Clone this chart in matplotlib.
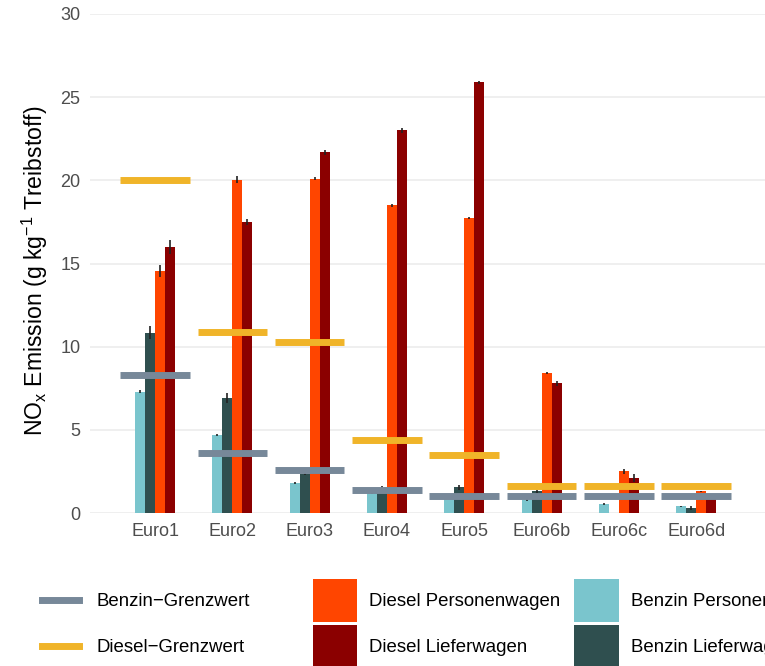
import numpy as np
import matplotlib.pyplot as plt
from matplotlib.patches import Patch
from matplotlib.lines import Line2D

plt.rcParams['font.family'] = ['Liberation Sans', 'DejaVu Sans']
plt.rcParams['mathtext.fontset'] = 'custom'
plt.rcParams['mathtext.rm'] = 'Liberation Sans'
plt.rcParams['mathtext.it'] = 'Liberation Sans:italic'

# Werte (g NOx pro kg Treibstoff)
categories = ['Euro1', 'Euro2', 'Euro3', 'Euro4', 'Euro5', 'Euro6b', 'Euro6c', 'Euro6d']
benzin_pw = [7.3, 4.7, 1.8, 1.2, 0.9, 0.8, 0.55, 0.42]
benzin_pw_err = [0.1, 0.05, 0.05, 0.05, 0.05, 0.05, 0.05, 0.03]
benzin_lw = [10.85, 6.9, 2.35, 1.5, 1.55, 1.3, np.nan, 0.3]
benzin_lw_err = [0.4, 0.3, 0.05, 0.1, 0.15, 0.1, np.nan, 0.1]
diesel_pw = [14.55, 20.05, 20.1, 18.5, 17.75, 8.42, 2.5, 1.3]
diesel_pw_err = [0.35, 0.2, 0.1, 0.1, 0.05, 0.05, 0.15, 0.05]
diesel_lw = [16.0, 17.5, 21.7, 23.0, 25.9, 7.8, 2.1, 1.0]
diesel_lw_err = [0.4, 0.2, 0.15, 0.15, 0.1, 0.15, 0.25, 0.05]
benzin_grenz = [8.3, 3.6, 2.6, 1.4, 1.0, 1.0, 1.0, 1.0]
diesel_grenz = [20.0, 10.9, 10.3, 4.4, 3.5, 1.6, 1.6, 1.6]

c_bpw = '#7AC5CD'
c_blw = '#2F4F4F'
c_dpw = '#FF4500'
c_dlw = '#8B0000'
c_bg = '#778899'
c_dg = '#F0B429'

fig = plt.figure(figsize=(7.65, 6.66), dpi=100)
ax = fig.add_axes([90/765, 1-513/666, 1-90/765, (513-14)/666])

x = np.arange(len(categories))
w = 0.129
series = [(benzin_pw, benzin_pw_err, c_bpw), (benzin_lw, benzin_lw_err, c_blw),
          (diesel_pw, diesel_pw_err, c_dpw), (diesel_lw, diesel_lw_err, c_dlw)]
for i, (vals, errs, col) in enumerate(series):
    pos = x + (i-1.5)*w
    ax.bar(pos, vals, width=w, color=col, zorder=2)
    ax.errorbar(pos, vals, yerr=errs, fmt='none', ecolor='#222222', elinewidth=1.2, capsize=0, zorder=3)

ax.hlines(diesel_grenz, x-0.45, x+0.45, colors=c_dg, lw=5, zorder=4)
ax.hlines(benzin_grenz, x-0.45, x+0.45, colors=c_bg, lw=5, zorder=4)

ax.set_ylim(0, 30)
ax.set_xlim(-0.841, 7.89)
ax.set_yticks(range(0, 31, 5))
ax.set_xticks(x)
ax.set_xticklabels(categories)
ax.grid(axis='y', color='#EBEBEB', lw=1.1)
ax.set_axisbelow(True)
for s in ax.spines.values():
    s.set_visible(False)
ax.tick_params(length=0, labelsize=13, labelcolor='#4D4D4D')
ax.tick_params(axis='y', pad=7)
ax.tick_params(axis='x', pad=7)

fig.text(0.046, 0.594, 'NO$_\\mathrm{x}$ Emission (g kg$^{-1}$ Treibstoff)',
         rotation=90, fontsize=16.6, ha='center', va='center')

# Legenden (Linien links, Flaechen rechts)
fs = 13.4
hh = 3.2
for col, lab, yc in [(c_bg, 'Benzin−Grenzwert', 601.5), (c_dg, 'Diesel−Grenzwert', 647.5)]:
    fig.legend(handles=[Line2D([], [], color=col, lw=5)], labels=[lab],
               loc='center left', bbox_to_anchor=(42/765, 1-yc/666), frameon=False,
               fontsize=fs, handlelength=2.0, handleheight=0.7,
               handletextpad=0.92, borderpad=0, borderaxespad=0)
fig.legend(handles=[Patch(fc=c_dpw, ec='none'), Patch(fc=c_dlw, ec='none'),
                    Patch(fc=c_bpw, ec='none'), Patch(fc=c_blw, ec='none')],
           labels=['Diesel Personenwagen', 'Diesel Lieferwagen',
                   'Benzin Personenwagen', 'Benzin Lieferwagen'],
           ncol=2, loc='upper left', bbox_to_anchor=(313/765, 1-579/666), frameon=False,
           fontsize=fs, handlelength=2.37, handleheight=hh, labelspacing=0.17,
           handletextpad=0.65, columnspacing=0.75, borderpad=0, borderaxespad=0)

fig.savefig('out.png', dpi=100)
